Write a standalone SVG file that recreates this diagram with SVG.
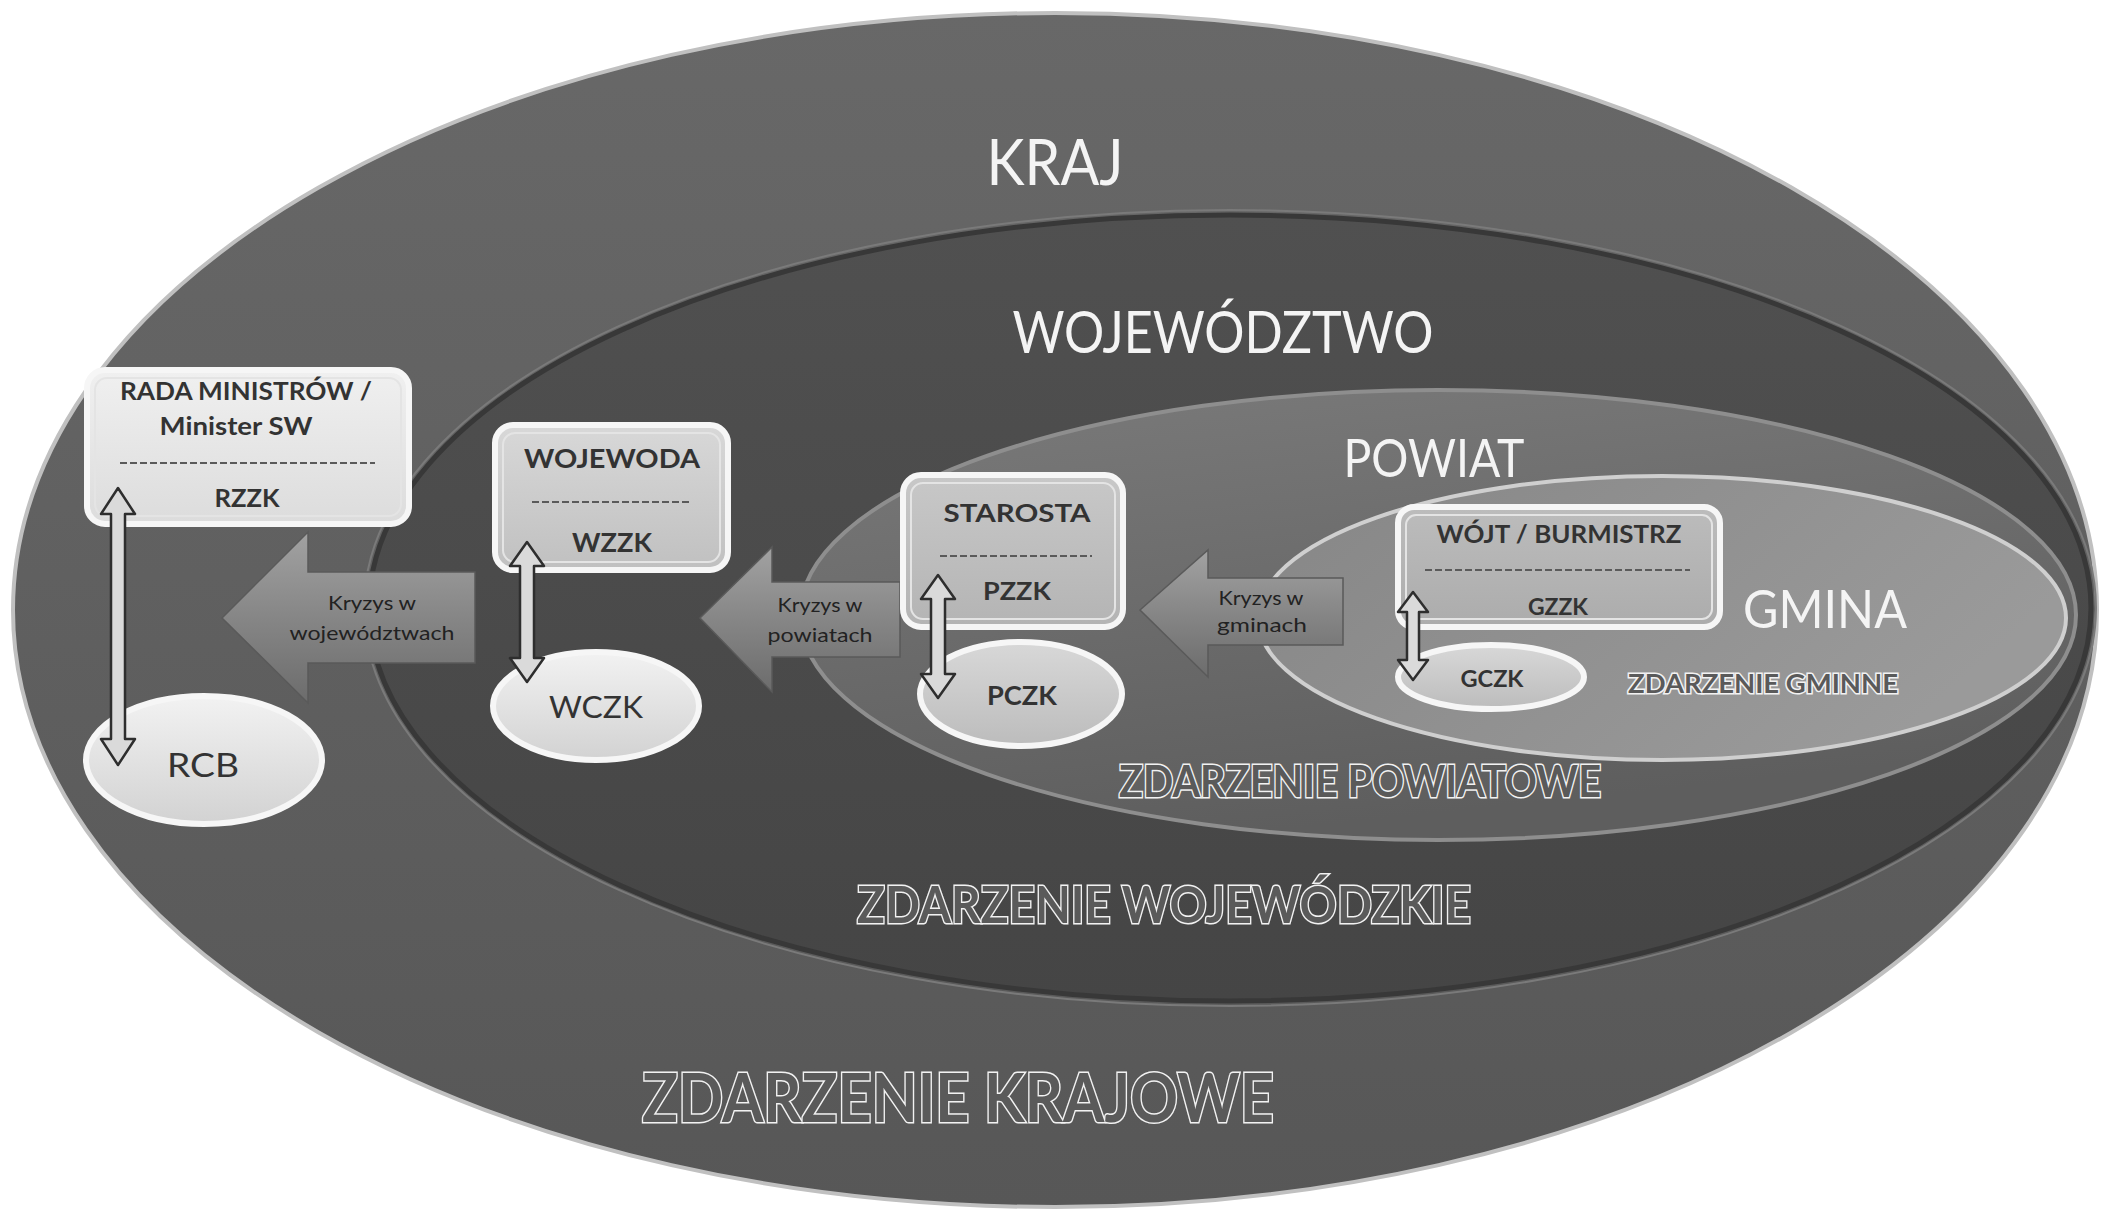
<svg xmlns="http://www.w3.org/2000/svg" width="2107" height="1211" viewBox="0 0 2107 1211">
<defs>
<linearGradient id="gKraj" x1="0" y1="0" x2="0" y2="1"><stop offset="0" stop-color="#686868"/><stop offset="1" stop-color="#575757"/></linearGradient>
<linearGradient id="gWoj" x1="0" y1="0" x2="0" y2="1"><stop offset="0" stop-color="#505050"/><stop offset="1" stop-color="#454545"/></linearGradient>
<linearGradient id="gPow" x1="0" y1="0" x2="0.3" y2="1"><stop offset="0" stop-color="#7a7a7a"/><stop offset="1" stop-color="#5e5e5e"/></linearGradient>
<linearGradient id="gGm" x1="0" y1="0" x2="1" y2="0.4"><stop offset="0" stop-color="#868686"/><stop offset="1" stop-color="#9a9a9a"/></linearGradient>
<linearGradient id="gBox1" x1="0" y1="0" x2="0" y2="1"><stop offset="0" stop-color="#f0f0f0"/><stop offset="1" stop-color="#dcdcdc"/></linearGradient>
<linearGradient id="gBox2" x1="0" y1="0" x2="0" y2="1"><stop offset="0" stop-color="#d8d8d8"/><stop offset="1" stop-color="#c0c0c0"/></linearGradient>
<linearGradient id="gBox3" x1="0" y1="0" x2="0" y2="1"><stop offset="0" stop-color="#c8c8c8"/><stop offset="1" stop-color="#b4b4b4"/></linearGradient>
<linearGradient id="gBox4" x1="0" y1="0" x2="0" y2="1"><stop offset="0" stop-color="#bcbcbc"/><stop offset="1" stop-color="#acacac"/></linearGradient>
<linearGradient id="gEl" x1="0" y1="0" x2="0" y2="1"><stop offset="0" stop-color="#f2f2f2"/><stop offset="1" stop-color="#d2d2d2"/></linearGradient>
<linearGradient id="gEl2" x1="0" y1="0" x2="0" y2="1"><stop offset="0" stop-color="#d8d8d8"/><stop offset="1" stop-color="#bcbcbc"/></linearGradient>
<linearGradient id="gArr" x1="0" y1="0" x2="0" y2="1"><stop offset="0" stop-color="#a2a2a2"/><stop offset="0.5" stop-color="#868686"/><stop offset="1" stop-color="#6c6c6c"/></linearGradient>
</defs>
<style>
.title{font-family:"Lato","Liberation Sans",sans-serif;fill:#f4f4f4;text-anchor:middle;}
.event{font-family:"Lato","Liberation Sans",sans-serif;font-weight:bold;fill:#5a5a5a;stroke:#f2f2f2;stroke-width:3;text-anchor:middle;paint-order:stroke;}
.nt{font-family:"Lato","Liberation Sans",sans-serif;font-weight:bold;fill:#333;text-anchor:middle;}
.nm{font-family:"Lato","Liberation Sans",sans-serif;font-weight:normal;fill:#333;text-anchor:middle;}
.at{font-family:"Lato","Liberation Sans",sans-serif;fill:#222;text-anchor:middle;font-size:19px;}
.box{stroke:#f6f6f6;stroke-width:6;}
.inner{fill:none;stroke:#e4e4e4;stroke-width:2;}
.dash{stroke:#5a5a5a;stroke-width:2;stroke-dasharray:7 3;}
.ell{stroke:#f6f6f6;stroke-width:6;}
.dbl{fill:#dadada;stroke:#2e2e2e;stroke-width:2.5;stroke-linejoin:round;}
.big{fill:url(#gArr);stroke:#5a5a5a;stroke-width:1.5;}
</style>
<rect width="2107" height="1211" fill="#ffffff"/>

<g id="kraj">
<ellipse cx="1055" cy="610" rx="1042" ry="597" fill="url(#gKraj)" stroke="#c0c0c0" stroke-width="4"/>
<text class="title" x="1055" y="185" font-size="64" textLength="137" lengthAdjust="spacingAndGlyphs">KRAJ</text>
<text class="event" x="958" y="1122" font-size="66" textLength="632" lengthAdjust="spacingAndGlyphs">ZDARZENIE KRAJOWE</text>
</g>

<g id="wojewodztwo">
<ellipse cx="1230" cy="608" rx="861" ry="393" fill="url(#gWoj)" stroke="#383838" stroke-width="5"/>
<ellipse cx="1230" cy="608" rx="866" ry="398" fill="none" stroke="#7a7a7a" stroke-width="2"/>
<text class="title" x="1223" y="353" font-size="58" textLength="421" lengthAdjust="spacingAndGlyphs">WOJEWÓDZTWO</text>
<text class="event" x="1164" y="923" font-size="52" textLength="614" lengthAdjust="spacingAndGlyphs">ZDARZENIE WOJEWÓDZKIE</text>
</g>

<g id="powiat">
<ellipse cx="1438" cy="615" rx="638" ry="225" fill="url(#gPow)" stroke="#8e8e8e" stroke-width="4"/>
<text class="title" x="1434" y="477" font-size="52" textLength="181" lengthAdjust="spacingAndGlyphs">POWIAT</text>
<text class="event" x="1360" y="797" font-size="44" textLength="482" lengthAdjust="spacingAndGlyphs">ZDARZENIE POWIATOWE</text>
</g>

<g id="gmina">
<ellipse cx="1662" cy="618" rx="404" ry="142" fill="url(#gGm)" stroke="#cfcfcf" stroke-width="4"/>
<text class="title" x="1825" y="628" font-size="52" textLength="164" lengthAdjust="spacingAndGlyphs">GMINA</text>
<text class="event" x="1763" y="693" font-size="26" stroke-width="1.5" textLength="270" lengthAdjust="spacingAndGlyphs">ZDARZENIE GMINNE</text>
</g>

<g id="arrows-kryzys">
<g id="arrow-wojewodztwa">
<polygon class="big" points="222,618 308,532 308,572 475,572 475,663 308,663 308,703"/>
<text class="at" x="372" y="610" textLength="88" lengthAdjust="spacingAndGlyphs">Kryzys w</text>
<text class="at" x="372" y="640" textLength="165" lengthAdjust="spacingAndGlyphs">województwach</text>
</g>
<g id="arrow-powiaty">
<polygon class="big" points="700,618 772,547 772,582 900,582 900,657 772,657 772,692"/>
<text class="at" x="820" y="612" textLength="85" lengthAdjust="spacingAndGlyphs">Kryzys w</text>
<text class="at" x="820" y="642" textLength="105" lengthAdjust="spacingAndGlyphs">powiatach</text>
</g>
<g id="arrow-gminy">
<polygon class="big" points="1140,610 1208,550 1208,578 1343,578 1343,645 1208,645 1208,677"/>
<text class="at" x="1261" y="605" textLength="85" lengthAdjust="spacingAndGlyphs">Kryzys w</text>
<text class="at" x="1262" y="632" textLength="90" lengthAdjust="spacingAndGlyphs">gminach</text>
</g>
</g>

<g id="rada">
<rect class="box" x="87" y="370" width="322" height="154" rx="18" fill="url(#gBox1)"/>
<rect class="inner" x="95" y="378" width="306" height="138" rx="12"/>
<text class="nt" x="246" y="400" font-size="24" textLength="252" lengthAdjust="spacingAndGlyphs">RADA MINISTRÓW /</text>
<text class="nt" x="236" y="435" font-size="24" textLength="153" lengthAdjust="spacingAndGlyphs">Minister SW</text>
<line class="dash" x1="120" y1="463" x2="375" y2="463"/>
<text class="nt" x="247" y="507" font-size="24" textLength="65" lengthAdjust="spacingAndGlyphs">RZZK</text>
</g>
<g id="rcb">
<ellipse class="ell" cx="204" cy="760" rx="118" ry="64" fill="url(#gEl)"/>
<text class="nm" x="203" y="777" font-size="32" textLength="72" lengthAdjust="spacingAndGlyphs">RCB</text>
</g>

<g id="wojewoda">
<rect class="box" x="495" y="425" width="233" height="145" rx="18" fill="url(#gBox2)"/>
<rect class="inner" x="503" y="433" width="217" height="129" rx="12"/>
<text class="nt" x="612" y="468" font-size="26" textLength="176" lengthAdjust="spacingAndGlyphs">WOJEWODA</text>
<line class="dash" x1="532" y1="502" x2="692" y2="502"/>
<text class="nt" x="612" y="552" font-size="26" textLength="80" lengthAdjust="spacingAndGlyphs">WZZK</text>
</g>
<g id="wczk">
<ellipse class="ell" cx="596" cy="706" rx="103" ry="54" fill="url(#gEl)"/>
<text class="nm" x="596" y="718" font-size="30" textLength="94" lengthAdjust="spacingAndGlyphs">WCZK</text>
</g>

<g id="starosta">
<rect class="box" x="903" y="475" width="220" height="152" rx="18" fill="url(#gBox3)"/>
<rect class="inner" x="911" y="483" width="204" height="136" rx="12"/>
<text class="nt" x="1017" y="522" font-size="25" textLength="147" lengthAdjust="spacingAndGlyphs">STAROSTA</text>
<line class="dash" x1="940" y1="556" x2="1092" y2="556"/>
<text class="nt" x="1017" y="600" font-size="25" textLength="68" lengthAdjust="spacingAndGlyphs">PZZK</text>
</g>
<g id="pczk">
<ellipse class="ell" cx="1021" cy="694" rx="101" ry="52" fill="url(#gEl2)"/>
<text class="nt" x="1022" y="705" font-size="26" textLength="70" lengthAdjust="spacingAndGlyphs">PCZK</text>
</g>

<g id="wojt">
<rect class="box" x="1398" y="507" width="322" height="120" rx="16" fill="url(#gBox4)"/>
<rect class="inner" x="1406" y="515" width="306" height="104" rx="10"/>
<text class="nt" x="1559" y="543" font-size="24" textLength="245" lengthAdjust="spacingAndGlyphs">WÓJT / BURMISTRZ</text>
<line class="dash" x1="1425" y1="570" x2="1690" y2="570"/>
<text class="nt" x="1558" y="615" font-size="22" textLength="60" lengthAdjust="spacingAndGlyphs">GZZK</text>
</g>
<g id="gczk">
<ellipse class="ell" cx="1491" cy="677" rx="93" ry="32" fill="url(#gEl2)"/>
<text class="nt" x="1492" y="687" font-size="22" textLength="63" lengthAdjust="spacingAndGlyphs">GCZK</text>
</g>

<g id="connectors">
<polygon class="dbl" points="118,488 135,514 125,514 125,739 135,739 118,765 101,739 111,739 111,514 101,514"/>
<polygon class="dbl" points="527,542 544,566 534,566 534,658 544,658 527,682 510,658 520,658 520,566 510,566"/>
<polygon class="dbl" points="938,575 955,599 945,599 945,674 955,674 938,698 921,674 931,674 931,599 921,599"/>
<polygon class="dbl" points="1413,592 1428,612 1419,612 1419,660 1428,660 1413,680 1398,660 1407,660 1407,612 1398,612"/>
</g>
</svg>
